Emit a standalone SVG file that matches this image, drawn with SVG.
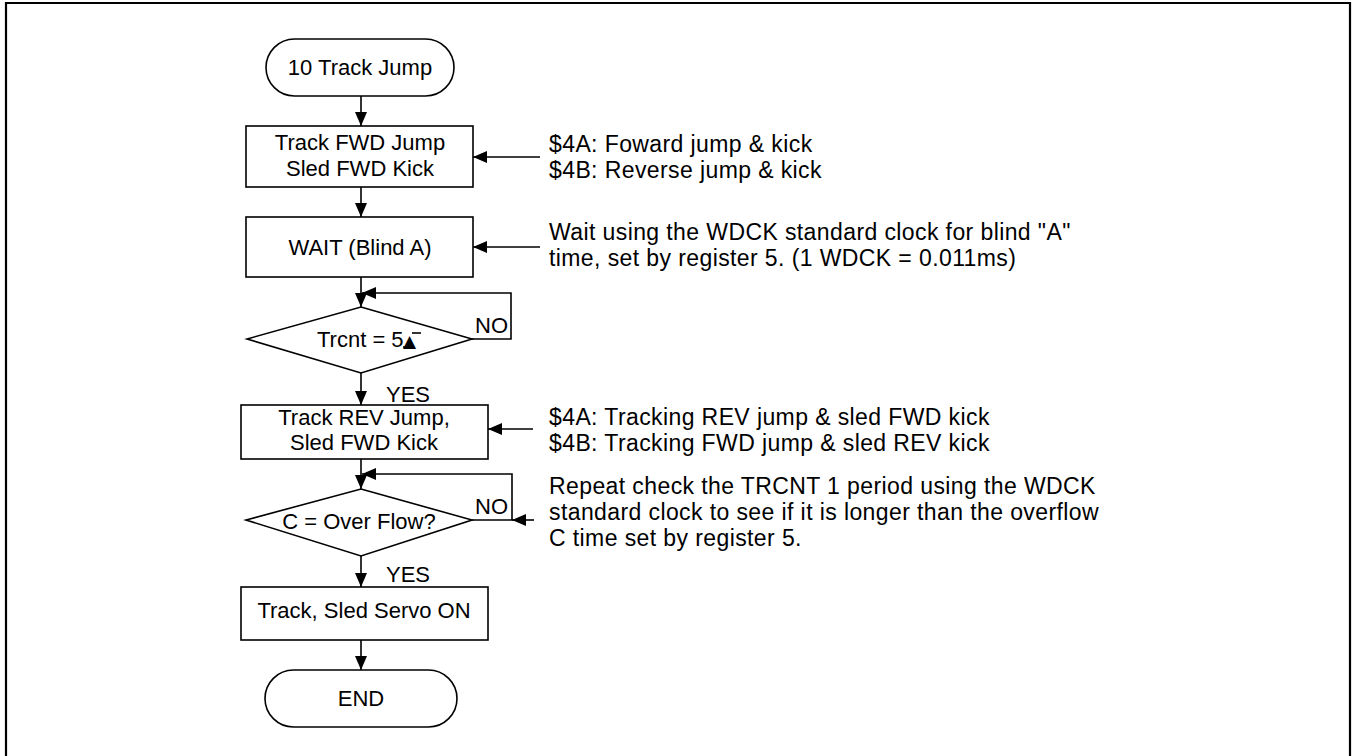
<svg xmlns="http://www.w3.org/2000/svg" width="1355" height="756" viewBox="0 0 1355 756">
  <style>
    .shape { fill: #ffffff; stroke: #000000; stroke-width: 1.6; }
    .wire { fill: none; stroke: #000000; stroke-width: 1.6; }
    .lbl { font-family: "Liberation Sans", Arial, sans-serif; font-size: 22px; fill: #000000; }
    .mid { text-anchor: middle; }
    .note { font-family: "Liberation Sans", Arial, sans-serif; font-size: 23px; letter-spacing: 0.4px; fill: #000000; }
  </style>
  <defs>
    <marker id="headBig" viewBox="0 0 14 12" refX="14" refY="6" markerWidth="14" markerHeight="12" markerUnits="userSpaceOnUse" orient="auto">
      <path d="M0,0 L14,6 L0,12 Z" fill="#000000"/>
    </marker>
  </defs>

  <rect width="1355" height="756" fill="#ffffff"/>
  <!-- outer frame (open at the bottom) -->
  <path d="M6,760 L6,3 L1350,3 L1350,760" fill="none" stroke="#000000" stroke-width="2.2"/>

  <!-- connectors -->
  <g id="connectors">
    <line class="wire" x1="361" y1="96" x2="361" y2="126" marker-end="url(#headBig)"/>
    <line class="wire" x1="361" y1="187" x2="361" y2="217" marker-end="url(#headBig)"/>
    <line class="wire" x1="361" y1="277" x2="361" y2="307" marker-end="url(#headBig)"/>
    <polyline class="wire" points="472,339 511,339 511,293 362,293" marker-end="url(#headBig)"/>
    <line class="wire" x1="361" y1="373" x2="361" y2="405" marker-end="url(#headBig)"/>
    <line class="wire" x1="361" y1="459" x2="361" y2="489" marker-end="url(#headBig)"/>
    <polyline class="wire" points="472,520 512,520 512,474 362,474" marker-end="url(#headBig)"/>
    <line class="wire" x1="361" y1="556" x2="361" y2="587" marker-end="url(#headBig)"/>
    <line class="wire" x1="361" y1="640" x2="361" y2="670" marker-end="url(#headBig)"/>

    <!-- note pointers -->
    <line class="wire" x1="540" y1="157" x2="473" y2="157" marker-end="url(#headBig)"/>
    <line class="wire" x1="540" y1="247" x2="473" y2="247" marker-end="url(#headBig)"/>
    <line class="wire" x1="533" y1="429" x2="488" y2="429" marker-end="url(#headBig)"/>
    <line class="wire" x1="534" y1="520" x2="512" y2="520" marker-end="url(#headBig)"/>

    <text class="lbl" x="475" y="333">NO</text>
    <text class="lbl" x="386" y="402">YES</text>
    <text class="lbl" x="475" y="514">NO</text>
    <text class="lbl" x="386" y="582">YES</text>
  </g>

  <g id="start">
    <rect class="shape" x="266" y="39" width="188" height="57" rx="28.5" ry="28.5"/>
    <text class="lbl mid" x="360" y="75">10 Track Jump</text>
  </g>

  <g id="fwd-jump">
    <rect class="shape" x="246" y="126" width="227" height="61"/>
    <text class="lbl mid" x="360" y="150">Track FWD Jump</text>
    <text class="lbl mid" x="360" y="176">Sled FWD Kick</text>
  </g>

  <g id="wait-blind">
    <rect class="shape" x="246" y="217" width="227" height="60"/>
    <text class="lbl mid" x="360" y="255">WAIT (Blind A)</text>
  </g>

  <g id="trcnt-check">
    <polygon class="shape" points="361,307 472,339 361,373 247,339"/>
    <text class="lbl" x="317" y="347">Trcnt = 5</text>
    <text x="403" y="347" font-family="DejaVu Sans, sans-serif" font-size="17px" fill="#000000">▲</text>
    <line x1="412" y1="333" x2="421" y2="333" stroke="#000000" stroke-width="1.6"/>
    <line x1="403" y1="347" x2="410" y2="347" stroke="#000000" stroke-width="1.6"/>
  </g>

  <g id="rev-jump">
    <rect class="shape" x="241" y="405" width="247" height="54"/>
    <text class="lbl mid" x="364" y="425">Track REV Jump,</text>
    <text class="lbl mid" x="364" y="450">Sled FWD Kick</text>
  </g>

  <g id="overflow-check">
    <polygon class="shape" points="361,489 472,520 361,556 246,520"/>
    <text class="lbl mid" x="359" y="529">C = Over Flow?</text>
  </g>

  <g id="servo-on">
    <rect class="shape" x="241" y="587" width="247" height="53"/>
    <text class="lbl mid" x="364" y="618">Track, Sled Servo ON</text>
  </g>

  <g id="end">
    <rect class="shape" x="265" y="670" width="192" height="57" rx="28.5" ry="28.5"/>
    <text class="lbl mid" x="361" y="706">END</text>
  </g>

  <g id="notes">
    <text class="note" x="549" y="152">$4A: Foward jump &amp; kick</text>
    <text class="note" x="549" y="178">$4B: Reverse jump &amp; kick</text>
    <text class="note" x="549" y="240">Wait using the WDCK standard clock for blind "A"</text>
    <text class="note" x="549" y="266">time, set by register 5. (1 WDCK = 0.011ms)</text>
    <text class="note" x="549" y="425">$4A: Tracking REV jump &amp; sled FWD kick</text>
    <text class="note" x="549" y="451">$4B: Tracking FWD jump &amp; sled REV kick</text>
    <text class="note" x="549" y="494">Repeat check the TRCNT 1 period using the WDCK</text>
    <text class="note" x="549" y="520">standard clock to see if it is longer than the overflow</text>
    <text class="note" x="549" y="546">C time set by register 5.</text>
  </g>
</svg>
